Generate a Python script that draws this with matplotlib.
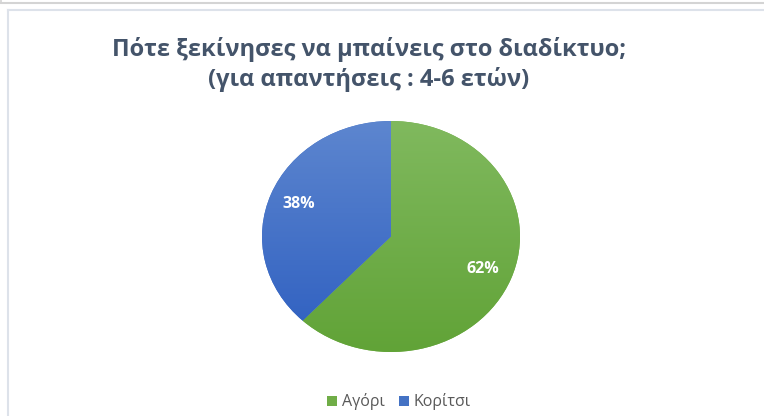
import numpy as np
import matplotlib
matplotlib.use('Agg')
import matplotlib.pyplot as plt
from matplotlib.lines import Line2D
from matplotlib.colors import LinearSegmentedColormap

# data
labels = ['Αγόρι', 'Κορίτσι']
values = [62, 38]
title = 'Πότε ξεκίνησες να μπαίνεις στο διαδίκτυο;\n(για απαντήσεις : 4-6 ετών)'
# gradient top / bottom colours per slice
grad_colors = [('#80b95e', '#61a337'), ('#5d86cf', '#2d5ec0')]
flat_colors = ['#70ad47', '#4472c4']

W, H = 764, 416
fig = plt.figure(figsize=(W / 100, H / 100), dpi=100)
fig.patch.set_facecolor('white')

# frame lines (screenshot borders)
def px_line(x0, y0, x1, y1, color, lw=1.2):
    fig.add_artist(Line2D([x0 / W, x1 / W], [1 - y0 / H, 1 - y1 / H],
                          transform=fig.transFigure, color=color, lw=lw))

px_line(0, 2.5, W, 2.5, '#d4d4d4', 1.5)
px_line(0.8, 0, 0.8, 2.5, '#d4d4d4', 1.2)
px_line(8, 10, W, 10, '#dde2ea', 1.5)
px_line(8, 10, 8, H, '#dde2ea', 1.5)

fig.text(369 / W, 1 - 64.5 / H, title, ha='center', va='center',
         fontsize=17, fontweight='bold', color='#44546a',
         family=['Open Sans', 'DejaVu Sans'], linespacing=1.28)

# pie axes (slightly elliptical like the original)
ax = fig.add_axes([262 / W, 1 - 352 / H, 258 / W, 231 / H])
wedges, texts, autotexts = ax.pie(values, colors=flat_colors, startangle=90,
                                  counterclock=False, autopct='%1.0f%%',
                                  pctdistance=0.77,
                                  textprops=dict(color='white', fontsize=11.5,
                                                 fontweight='bold',
                                                 family=['Open Sans', 'DejaVu Sans']))
ax.set_aspect('auto')

# vertical gradient fill clipped to each wedge
for w, (ctop, cbot) in zip(wedges, grad_colors):
    cmap = LinearSegmentedColormap.from_list('g', [cbot, ctop])
    grad = np.linspace(0, 1, 256).reshape(-1, 1)
    im = ax.imshow(grad, cmap=cmap, extent=[-1, 1, -1, 1], origin='lower',
                   aspect='auto', zorder=w.get_zorder() + 0.1)
    im.set_clip_path(w)
    w.set_edgecolor('none')
for t in autotexts:
    t.set_zorder(5)
ax.set_xlim(-1, 1)
ax.set_ylim(-1, 1)

leg = fig.legend(wedges, labels, loc='center', bbox_to_anchor=(399 / W, 1 - 402 / H),
                 ncol=2, frameon=False, handlelength=0.6, handleheight=0.6,
                 handletextpad=0.3, columnspacing=0.9,
                 prop=dict(family=['Open Sans', 'DejaVu Sans'], size=11.5))
for h, c in zip(leg.legend_handles, flat_colors):
    h.set_facecolor(c)
for t in leg.get_texts():
    t.set_color('#595959')

fig.savefig('out.png', dpi=100, facecolor='white')
